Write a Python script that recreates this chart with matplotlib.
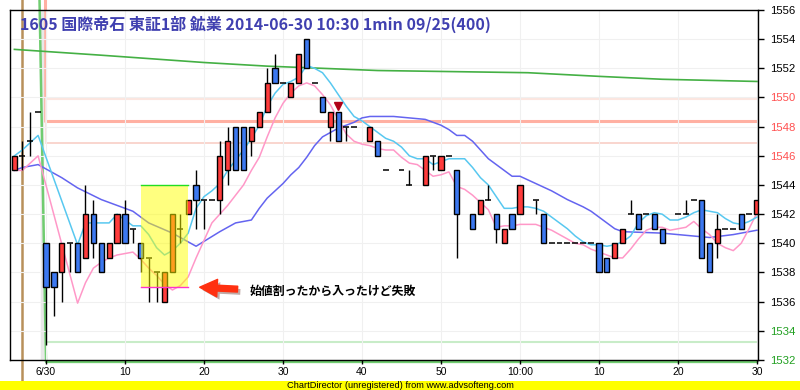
"""Recreate the 1605 1-minute candlestick chart (ChartDirector style)."""

import matplotlib

matplotlib.use("Agg")
import matplotlib.pyplot as plt
import matplotlib.patheffects as pe
from matplotlib.patches import FancyArrowPatch, Rectangle

plt.rcParams["font.family"] = ["Noto Sans CJK JP", "DejaVu Sans"]

# minute offsets from 9:00 (negative = previous session tail)
minutes = [-4, -3, -2, -1, 0, 1, 2, 3, 4, 5, 6, 7, 8, 9, 10, 11, 12, 13, 14, 15,
           16, 17, 18, 19, 20, 21, 22, 23, 24, 25, 26, 27, 28, 29, 30, 31, 32, 33,
           34, 35, 36, 37, 38, 39, 41, 42, 43, 45, 46, 48, 49, 50, 51, 52, 54, 55,
           56, 57, 58, 59, 60, 62, 63, 64, 65, 66, 67, 68, 69, 70, 71, 72, 73, 74,
           75, 76, 77, 78, 80, 81, 82, 83, 84, 85, 86, 87, 88, 89, 90]
opens = [1545, 1546, 1547, 1549, 1540, 1538, 1538, 1540, 1540, 1539, 1542, 1540, 1539, 1540,
         1542, 1541, 1540, 1539, 1538, 1536, 1538, 1541, 1542, 1544, 1543, 1543, 1543, 1545,
         1548, 1548, 1547, 1548, 1549, 1552, 1551, 1550, 1551, 1554, 1551, 1550, 1548, 1549,
         1548, 1548, 1547, 1547, 1545, 1545, 1544, 1544, 1546, 1545, 1546, 1545, 1542, 1542,
         1543, 1542, 1540, 1542, 1542, 1543, 1542, 1540, 1540, 1540, 1540, 1540, 1540, 1540,
         1539, 1539, 1540, 1542, 1542, 1542, 1542, 1541, 1542, 1542, 1543, 1543, 1540, 1540,
         1541, 1541, 1542, 1542, 1542]
highs = [1546, 1547, 1549, 1549, 1540, 1538, 1540, 1540, 1540, 1544, 1543, 1540, 1540, 1542,
         1543, 1541, 1540, 1539, 1538, 1538, 1542, 1542, 1543, 1545, 1543, 1543, 1547, 1548,
         1548, 1548, 1548, 1549, 1552, 1553, 1551, 1551, 1553, 1554, 1551, 1550, 1549, 1549,
         1548, 1548, 1548, 1547, 1545, 1545, 1545, 1546, 1546, 1546, 1546, 1545, 1542, 1543,
         1544, 1542, 1541, 1542, 1544, 1543, 1542, 1540, 1540, 1540, 1540, 1540, 1540, 1540,
         1539, 1540, 1541, 1543, 1542, 1542, 1542, 1541, 1542, 1543, 1543, 1543, 1540, 1542,
         1541, 1541, 1542, 1542, 1543]
lows = [1545, 1545, 1546, 1549, 1533, 1535, 1536, 1538, 1538, 1539, 1539, 1538, 1539, 1540,
        1540, 1540, 1538, 1536, 1536, 1536, 1538, 1540, 1542, 1541, 1541, 1543, 1542, 1544,
        1545, 1545, 1546, 1548, 1549, 1551, 1551, 1550, 1551, 1552, 1551, 1549, 1547, 1547,
        1547, 1548, 1547, 1546, 1545, 1545, 1544, 1544, 1545, 1545, 1546, 1539, 1541, 1542,
        1543, 1540, 1540, 1541, 1542, 1542, 1540, 1540, 1540, 1540, 1540, 1540, 1540, 1538,
        1538, 1539, 1540, 1542, 1541, 1542, 1541, 1540, 1542, 1542, 1543, 1539, 1538, 1539,
        1541, 1541, 1541, 1542, 1542]
closes = [1546, 1546, 1547, 1549, 1537, 1537, 1540, 1540, 1538, 1542, 1540, 1538, 1540, 1542,
          1540, 1541, 1539, 1539, 1538, 1538, 1542, 1541, 1543, 1543, 1543, 1543, 1546, 1547,
          1545, 1545, 1548, 1549, 1551, 1551, 1551, 1551, 1553, 1552, 1551, 1549, 1549, 1547,
          1548, 1548, 1548, 1546, 1545, 1545, 1544, 1546, 1546, 1546, 1546, 1542, 1541, 1543,
          1543, 1541, 1541, 1541, 1544, 1543, 1540, 1540, 1540, 1540, 1540, 1540, 1540, 1538,
          1538, 1540, 1541, 1542, 1541, 1542, 1541, 1540, 1542, 1542, 1543, 1539, 1538, 1541,
          1541, 1541, 1541, 1542, 1543]

# moving averages
ma_short_min = [-4, -3, -2, -1, 4, 5, 6, 7, 8, 9, 10, 11, 12, 13, 14, 15, 16, 17, 18, 19, 20,
                21, 22, 23, 24, 25, 26, 27, 28, 29, 30, 31, 32, 33, 34, 35, 36, 37, 38, 39, 40,
                41, 42, 43, 44, 45, 46, 47, 48, 49, 50, 51, 52, 53, 54, 55, 56, 57, 58, 59, 60,
                61, 62, 63, 64, 65, 66, 67, 68, 69, 70, 71, 72, 73, 74, 75, 76, 77, 78, 79, 80,
                81, 82, 83, 84, 85, 86, 87, 88, 89, 90]
ma_short = [1546.0, 1546.4, 1546.9, 1547.4, 1539.9, 1541.4, 1541.4, 1541.4, 1541.4, 1542.0,
            1541.6, 1541.2, 1541.2, 1540.6, 1539.7, 1539.2, 1539.5, 1540.0, 1540.7, 1542.4,
            1543.2, 1543.6, 1544.1, 1545.0, 1545.7, 1546.4, 1547.2, 1548.1, 1549.4, 1550.3,
            1550.9, 1551.1, 1551.4, 1552.2, 1552.0, 1551.7, 1551.0, 1550.2, 1549.4, 1548.7,
            1548.4, 1548.0, 1547.6, 1547.2, 1547.0, 1546.6, 1546.0, 1545.8, 1545.8, 1545.4,
            1545.6, 1545.8, 1545.8, 1545.8, 1545.2, 1544.5, 1544.0, 1543.2, 1542.4, 1542.4,
            1542.5, 1542.5, 1542.4, 1542.2, 1541.8, 1541.4, 1541.0, 1540.5, 1540.1, 1539.9,
            1539.9, 1539.8, 1539.9, 1540.1, 1540.5, 1541.4, 1541.9, 1542.1, 1542.0, 1541.6,
            1541.6, 1541.8, 1542.1, 1542.3, 1542.2, 1542.1, 1541.7, 1541.4, 1541.3, 1541.5,
            1541.8]

ma_mid_min = [-4, -3, -2, -1, 4, 5, 6, 7, 8, 9, 10, 11, 12, 13, 14, 15, 16, 17, 18, 19, 20,
              21, 22, 23, 24, 25, 26, 27, 28, 29, 30, 31, 32, 33, 34, 35, 36, 37, 38, 39, 40,
              41, 42, 43, 44, 45, 46, 47, 48, 49, 50, 51, 52, 53, 54, 55, 56, 57, 58, 59, 60,
              61, 62, 63, 64, 65, 66, 67, 68, 69, 70, 71, 72, 73, 74, 75, 76, 77, 78, 79, 80,
              81, 82, 83, 84, 85, 86, 87, 88, 89, 90]
ma_mid = [1545.0, 1545.0, 1545.5, 1546.0, 1535.9, 1537.3, 1538.3, 1538.7, 1539.0, 1539.2,
          1539.3, 1539.4, 1538.9, 1538.3, 1537.8, 1537.2, 1536.8, 1537.1, 1537.7, 1539.0,
          1540.2, 1541.4, 1542.0, 1542.6, 1543.3, 1544.0, 1545.0, 1545.9, 1547.3, 1548.6,
          1549.6, 1550.3, 1550.8, 1551.0, 1550.8, 1550.2, 1549.5, 1548.5, 1547.5, 1547.0,
          1546.8, 1546.7, 1546.5, 1546.4, 1546.4, 1545.9, 1545.5, 1545.4, 1545.0, 1544.6,
          1544.7, 1544.9, 1543.9, 1543.7, 1543.3, 1542.8, 1542.3, 1541.1, 1541.2, 1541.2,
          1541.3, 1541.3, 1541.3, 1541.1, 1540.9, 1540.6, 1540.3, 1540.0, 1539.9, 1539.6,
          1539.4, 1539.2, 1539.0, 1539.0, 1539.6, 1540.3, 1540.9, 1541.1, 1541.1, 1540.9,
          1541.0, 1541.1, 1541.5, 1541.0, 1540.6, 1540.0, 1539.7, 1539.5, 1540.0, 1541.0,
          1542.1]

ma_long_min = [-4, -3, -1, 2, 4, 7, 9, 11, 13, 16, 19, 22, 24, 25, 26, 27, 28, 29, 30, 31,
               32, 33, 34, 35, 36, 37, 38, 39, 40, 41, 42, 44, 46, 48, 49, 50, 51, 52, 53,
               54, 55, 56, 57, 58, 59, 60, 62, 64, 66, 68, 69, 71, 72, 73, 78, 82, 84, 87, 90]
ma_long = [1545.0, 1545.2, 1545.4, 1544.5, 1543.8, 1543.0, 1542.6, 1542.2, 1541.4, 1540.7,
           1539.8, 1540.8, 1541.4, 1541.5, 1541.6, 1542.4, 1543.1, 1543.6, 1544.1, 1544.7,
           1545.2, 1545.9, 1546.7, 1547.3, 1547.6, 1547.9, 1548.1, 1548.3, 1548.6, 1548.7,
           1548.7, 1548.7, 1548.6, 1548.5, 1548.3, 1548.1, 1547.8, 1547.4, 1547.4, 1547.0,
           1546.4, 1545.8, 1545.4, 1545.0, 1544.6, 1544.6, 1544.1, 1543.6, 1543.0, 1542.5,
           1542.2, 1541.4, 1541.0, 1540.8, 1540.7, 1540.5, 1540.4, 1540.6, 1540.9]

ma_day_min = [-4, 7, 20, 28, 42, 61, 70, 78, 90]
ma_day = [1553.3, 1552.9, 1552.4, 1552.15, 1551.85, 1551.7, 1551.45, 1551.25, 1551.1]

# reference levels
level_main = 1548.4
level_upper = 1549.9
level_lower = 1546.9
level_support = 1533.2
marker_minute = 37
marker_price = 1549.4
box_minutes = (12, 18)
box_prices = (1537, 1544)

tick_minutes = [0, 10, 20, 30, 40, 50, 60, 70, 80, 90]
tick_labels = ["6/30", "10", "20", "30", "40", "50", "10:00", "10", "20", "30"]
price_ticks = list(range(1532, 1557, 2))
price_tick_colors = {1550: "#ff5050", 1548: "#ff5050", 1546: "#ff5050",
                     1534: "#22a022", 1532: "#22a022"}

title = "1605 国際帝石 東証1部 鉱業 2014-06-30 10:30 1min 09/25(400)"
note = "始値割ったから入ったけど失敗"

UP = "#ff3c3c"
DOWN = "#3c78f0"

fig = plt.figure(figsize=(8, 3.9), dpi=100)
ax = fig.add_axes([10 / 800, 30 / 390, 748 / 800, 350 / 390])
xmin, xmax = -4.557, 90.13
ymin, ymax = 1532, 1556
ax.set_xlim(xmin, xmax)
ax.set_ylim(ymin, ymax)
top_out = ymax + 10 / 14.583  # image top edge in price units
bottom_out = ymin - 21 / 14.583

ax.grid(True, color="#f0f0f0", lw=0.8, zorder=0)

# level lines (some run off the plot like the original)
ax.plot([-0.1, -0.1, 90], [top_out, level_main, level_main], color="#ffb0a2",
        lw=2.2, zorder=1, clip_on=False)
ax.plot([0, 90], [level_upper, level_upper], color="#fce6e0", lw=1.5, zorder=1)
ax.plot([0, 90], [level_lower, level_lower], color="#f9d2ca", lw=1.3, zorder=1)
ax.plot([0, 0], [level_upper, level_lower], color="#fce2dc", lw=1.4, zorder=1)
ax.plot([-0.55, -0.55], [ymin, ymax], color="#e8e8e8", lw=2.5, zorder=1)
ax.plot([0.2, 90], [level_support, level_support], color="#c8ecc8", lw=1.5, zorder=1)
ax.plot([-0.82, 0, 90], [top_out, ymin - 0.13, ymin - 0.13], color="#70cc70",
        lw=1.8, zorder=1, clip_on=False)
ax.plot([-3.04, -3.04], [top_out, bottom_out], color="#b8905a", lw=1.8,
        zorder=1, clip_on=False)

ax.plot(ma_day_min, ma_day, color="#44b044", lw=1.2, zorder=2)
ax.plot(ma_long_min, ma_long, color="#6464f0", lw=1.1, zorder=2)
ax.plot(ma_mid_min, ma_mid, color="#ff98c8", lw=1.1, zorder=2)
ax.plot(ma_short_min, ma_short, color="#58c8f0", lw=1.1, zorder=2)

for m, o, h, l, c in zip(minutes, opens, highs, lows, closes):
    if h > l:
        ax.vlines(m, l, h, color="black", lw=1.0, zorder=3)
    if o == c:
        ax.hlines(o, m - 0.37, m + 0.37, color="black", lw=1.1, zorder=4)
    else:
        ax.bar(m, abs(c - o), bottom=min(o, c), width=0.66,
               color=UP if c > o else DOWN, edgecolor="black", lw=1.0, zorder=4)

ax.plot(marker_minute, marker_price, marker="v", color="#b00018", markersize=6,
        zorder=5, ls="none")

# highlighted box
ax.add_patch(Rectangle((box_minutes[0], box_prices[0]), box_minutes[1] - box_minutes[0],
                       box_prices[1] - box_prices[0], facecolor="#ffff00", alpha=0.5,
                       edgecolor="none", zorder=6))
ax.plot(box_minutes, [box_prices[1]] * 2, color="#22dd22", lw=1.0, zorder=7)
ax.plot(box_minutes, [box_prices[0]] * 2, color="#ff33cc", lw=1.0, zorder=7)

arrow = FancyArrowPatch((24.6, 1536.85), (19.1, 1537.0),
                        arrowstyle="simple,head_length=0.9,head_width=0.9,tail_width=0.3",
                        mutation_scale=14, color="#ff3010", zorder=8,
                        path_effects=[pe.SimplePatchShadow(offset=(2, -2), alpha=0.35),
                                      pe.Normal()])
ax.add_patch(arrow)
ax.text(25.8, 1536.7, note, fontsize=8.6, fontweight="bold", ha="left", va="center",
        zorder=8)

fig.text(20 / 800, 1 - 24 / 390, title, fontsize=11.5, fontweight="bold",
         color="#4040b0", ha="left", va="center")

# axes styling
for side in ["left", "top", "bottom", "right"]:
    ax.spines[side].set_color("black")
    ax.spines[side].set_linewidth(1.0)
    ax.spines[side].set_zorder(9)
ax.yaxis.tick_right()
ax.set_yticks(price_ticks)
ax.set_yticklabels([str(p) for p in price_ticks], family="Liberation Sans", fontsize=8.2)
for lbl, p in zip(ax.get_yticklabels(), price_ticks):
    lbl.set_color(price_tick_colors.get(p, "black"))
ax.set_xticks(tick_minutes)
ax.set_xticklabels(tick_labels, family="Liberation Sans", fontsize=7.5)
ax.tick_params(axis="y", direction="out", length=4, width=1, pad=5)
ax.tick_params(axis="x", direction="out", length=3, width=1, pad=2)

# unregistered banner
fig.patches.append(Rectangle((0, 0), 1, 9.5 / 390, transform=fig.transFigure,
                             facecolor="#ffff00", edgecolor="none", zorder=10))
fig.text(0.5, 4.9 / 390, "ChartDirector (unregistered) from www.advsofteng.com",
         fontsize=6.7, family="Liberation Sans", ha="center", va="center", zorder=11)

fig.savefig("out.png", dpi=100)
